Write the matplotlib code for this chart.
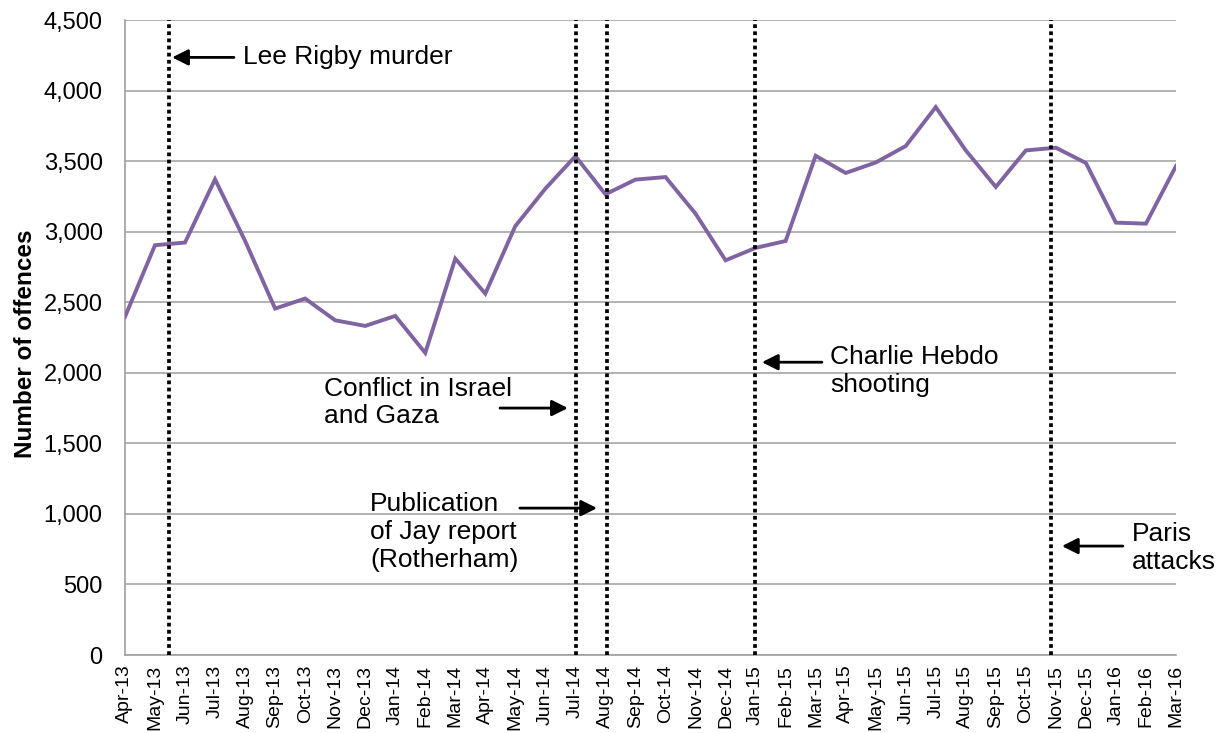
import matplotlib
matplotlib.use("Agg")
import matplotlib.pyplot as plt
from matplotlib.ticker import FuncFormatter

plt.rcParams['font.family'] = ['Liberation Sans', 'DejaVu Sans']

# ----------------------------
# Data
# ----------------------------
months = ["Apr-13", "May-13", "Jun-13", "Jul-13", "Aug-13", "Sep-13", "Oct-13", "Nov-13",
          "Dec-13", "Jan-14", "Feb-14", "Mar-14", "Apr-14", "May-14", "Jun-14", "Jul-14",
          "Aug-14", "Sep-14", "Oct-14", "Nov-14", "Dec-14", "Jan-15", "Feb-15", "Mar-15",
          "Apr-15", "May-15", "Jun-15", "Jul-15", "Aug-15", "Sep-15", "Oct-15", "Nov-15",
          "Dec-15", "Jan-16", "Feb-16", "Mar-16"]
offences = [2396, 2904, 2923, 3371, 2935, 2455, 2526, 2372,
            2332, 2403, 2141, 2809, 2561, 3040, 3305, 3535,
            3265, 3369, 3387, 3128, 2797, 2885, 2934, 3538,
            3416, 3490, 3607, 3883, 3576, 3317, 3576, 3595,
            3487, 3064, 3057, 3465]

event_labels = ["Lee Rigby murder", "Conflict in Israel\nand Gaza",
                "Publication\nof Jay report\n(Rotherham)", "Charlie Hebdo\nshooting",
                "Paris\nattacks"]
event_x = [1.47, 15.03, 16.04, 20.98, 30.83]

yticks = list(range(0, 5000, 500))

# ----------------------------
# Plot
# ----------------------------
fig = plt.figure(figsize=(12.25, 7.33), dpi=100)
ax = fig.add_axes([0.102, 0.1064, 0.858, 0.8663])

x = list(range(len(months)))
ax.plot(x, offences, color="#8064A2", lw=2.8, solid_joinstyle="miter", zorder=3)

# event markers
for ex in event_x:
    ax.axvline(ex, color="black", lw=2.7, linestyle=(0, (1, 0.9)), zorder=4)

# annotations (text + arrows)
arrow = dict(arrowstyle="-|>", color="black", lw=2, mutation_scale=24,
             shrinkA=0, shrinkB=0)
fs = 19
ax.text(3.93, 4235, event_labels[0], fontsize=fs, va="center", ha="left")
ax.annotate("", xy=(1.57, 4235), xytext=(3.63, 4235), arrowprops=arrow)

ax.text(6.63, 1790, event_labels[1], fontsize=fs, va="center", ha="left")
ax.annotate("", xy=(14.75, 1750), xytext=(12.49, 1750), arrowprops=arrow)

ax.text(8.16, 871, event_labels[2], fontsize=fs, va="center", ha="left")
ax.annotate("", xy=(15.72, 1041), xytext=(13.15, 1041), arrowprops=arrow)

ax.text(23.48, 2011, event_labels[3], fontsize=fs, va="center", ha="left")
ax.annotate("", xy=(21.21, 2075), xytext=(23.21, 2075), arrowprops=arrow)

ax.text(33.53, 758, event_labels[4], fontsize=fs, va="center", ha="left")
ax.annotate("", xy=(31.2, 772), xytext=(33.23, 772), arrowprops=arrow)

# axes styling
ax.set_xlim(0, len(months) - 1)
ax.set_ylim(0, 4500)
ax.set_yticks(yticks)
ax.yaxis.set_major_formatter(FuncFormatter(lambda v, p: f"{int(v):,}"))
ax.set_xticks(x)
ax.set_xticklabels(months, rotation=90, fontsize=14)
ax.tick_params(axis="y", length=0, pad=16, labelsize=17)
ax.tick_params(axis="x", length=0, pad=7)
ax.grid(axis="y", color="#A6A6A6", lw=1.2, zorder=0)
ax.set_axisbelow(True)
for s in ["top", "right"]:
    ax.spines[s].set_visible(False)
for s in ["left", "bottom"]:
    ax.spines[s].set_color("#A0A0A0")
    ax.spines[s].set_linewidth(1.2)

ax.set_ylabel("Number of offences", fontsize=17.5, fontweight="bold")
ax.yaxis.set_label_coords(-0.084, 0.49)

fig.savefig("out.png", dpi=100)
